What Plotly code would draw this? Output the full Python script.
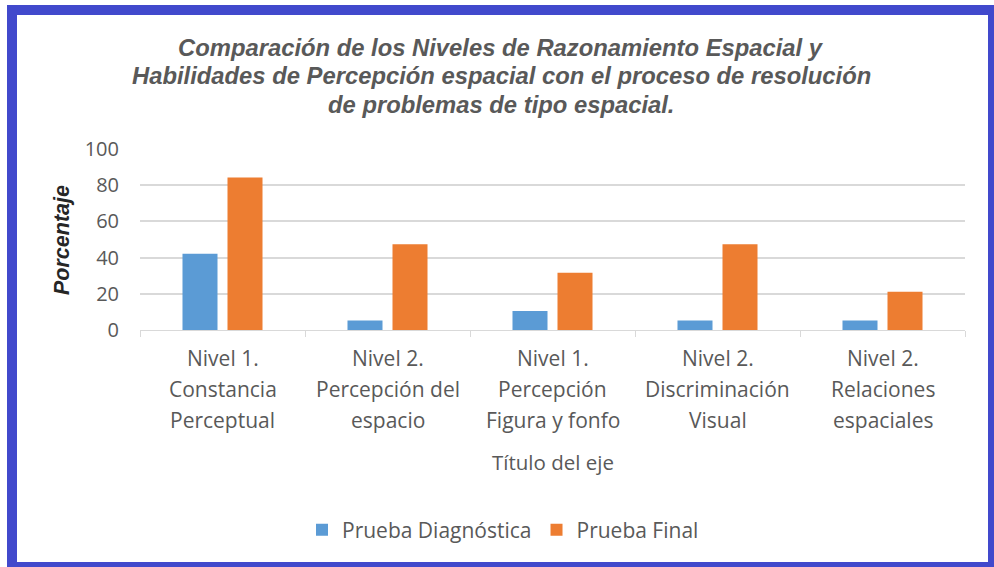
import plotly.graph_objects as go

# ---- data -------------------------------------------------------------
categories = [
    ["Nivel 1.", "Constancia", "Perceptual"],
    ["Nivel 2.", "Percepción del", "espacio"],
    ["Nivel 1.", "Percepción", "Figura y fonfo"],
    ["Nivel 2.", "Discriminación", "Visual"],
    ["Nivel 2.", "Relaciones", "espaciales"],
]
series_names = ["Prueba Diagnóstica", "Prueba Final"]
diagnostica = [42.1, 5.3, 10.5, 5.3, 5.3]
final = [84.2, 47.4, 31.6, 47.4, 21.1]
y_ticks = [0, 20, 40, 60, 80, 100]

title_lines = [
    "Comparación de los Niveles de Razonamiento Espacial y",
    "Habilidades de Percepción espacial con el proceso de resolución",
    "de problemas de tipo espacial.",
]
y_title = "Porcentaje"
x_title = "Título del eje"

# ---- layout geometry (pixels) -------------------------------------------
W, H = 994, 567
L, R, T, B = 140, 965, 149, 330  # plot area edges


def fx(px):
    return (px - L) / (R - L)


def fy(py):
    return (B - py) / (B - T)


keys = [" ".join(c) for c in categories]
BLUE = "#5b9bd5"
ORANGE = "#ed7d31"
GRAY = "#595959"
GRID = "#d9d9d9"
LABEL_FONT = "Open Sans"
TITLE_FONT = "Liberation Sans"

fig = go.Figure()
fig.add_trace(go.Bar(name=series_names[0], x=keys, y=diagnostica,
                     marker=dict(color=BLUE, line=dict(width=0))))
fig.add_trace(go.Bar(name=series_names[1], x=keys, y=final,
                     marker=dict(color=ORANGE, line=dict(width=0))))

annotations = []
# chart title, one annotation per line
for i, line in enumerate(title_lines):
    annotations.append(dict(
        text=f"<b><i>{line}</i></b>", xref="paper", yref="paper",
        x=fx(501), y=fy(47 + i * 28.5), xanchor="center", yanchor="middle",
        showarrow=False, font=dict(family=TITLE_FONT, size=23.8, color=GRAY)))

# category labels, three lines each, placed at the category positions
for key, lines in zip(keys, categories):
    for j, line in enumerate(lines):
        annotations.append(dict(
            text=line, xref="x", yref="paper", x=key, y=fy(358 + j * 31),
            xanchor="center", yanchor="middle", showarrow=False,
            font=dict(family=LABEL_FONT, size=21, color=GRAY)))

# axis titles
annotations.append(dict(
    text=x_title, xref="paper", yref="paper", x=fx(553), y=fy(462),
    xanchor="center", yanchor="middle", showarrow=False,
    font=dict(family=LABEL_FONT, size=20.5, color=GRAY)))
annotations.append(dict(
    text=f"<b><i>{y_title}</i></b>", xref="paper", yref="paper",
    x=fx(62), y=fy(240), xanchor="center", yanchor="middle",
    textangle=-90, showarrow=False,
    font=dict(family=TITLE_FONT, size=21.5, color="#262626")))

# blue frame around the whole chart
shapes = [dict(
    type="rect", xref="paper", yref="paper",
    x0=fx(12), x1=fx(993), y0=fy(10), y1=fy(567),
    line=dict(color="#4149cc", width=10), fillcolor="rgba(0,0,0,0)")]

fig.update_layout(
    width=W, height=H,
    margin=dict(l=L, r=W - R, t=T, b=H - B, pad=0),
    paper_bgcolor="white", plot_bgcolor="white",
    barmode="group", bargap=0.4545, bargroupgap=0.222,
    showlegend=True,
    legend=dict(orientation="h", x=fx(503), xanchor="center",
                y=fy(530), yanchor="middle",
                font=dict(family=LABEL_FONT, size=21, color=GRAY),
                traceorder="normal", bgcolor="rgba(0,0,0,0)"),
    annotations=annotations, shapes=shapes,
    hovermode=False,
)
fig.update_xaxes(type="category", showticklabels=False, showgrid=False,
                 zeroline=False, showline=True, linecolor=GRID, linewidth=1,
                 ticks="outside", tickson="boundaries", ticklen=6,
                 tickcolor=GRID, tickwidth=1)
fig.update_yaxes(range=[0, 100], tickvals=y_ticks, showgrid=True,
                 gridcolor=GRID, gridwidth=1.5, zeroline=False,
                 showline=False, ticks="", ticklabelstandoff=20,
                 tickfont=dict(family=LABEL_FONT, size=20, color=GRAY))

fig.write_html("out.html")
